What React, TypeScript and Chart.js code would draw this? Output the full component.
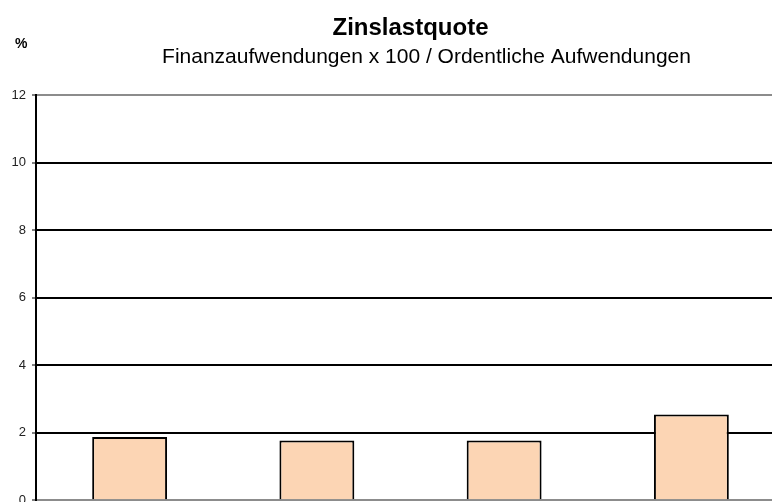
import React, { useEffect, useRef } from "react";
import { Chart, registerables } from "chart.js";

Chart.register(...registerables);

const categories = ["1", "2", "3", "4"];
const values = [1.875, 1.77, 1.77, 2.54];
const yTicks = [0, 2, 4, 6, 8, 10, 12];
const titleText = "Zinslastquote";
const subtitleText = "Finanzaufwendungen x 100 / Ordentliche Aufwendungen";
const unitText = "%";

const FONT = '"Liberation Sans", Arial, sans-serif';

const textPlugin = {
  id: "textPlugin",
  afterDraw(chart: any) {
    const { ctx, chartArea } = chart;
    const cx = (chartArea.left + chartArea.right) / 2;
    ctx.save();
    ctx.fillStyle = "#000";
    ctx.textBaseline = "alphabetic";
    ctx.textAlign = "center";
    ctx.font = `bold 24px ${FONT}`;
    ctx.fillText(titleText, cx, 35);
    ctx.font = `21px ${FONT}`;
    ctx.fillText(subtitleText, cx + 16, 63);
    ctx.textAlign = "left";
    ctx.font = `bold 14px ${FONT}`;
    ctx.fillText(unitText, 15, 48);
    ctx.restore();
  },
};

export default function App() {
  const ref = useRef<HTMLCanvasElement>(null);
  useEffect(() => {
    document.body.style.margin = "0";
    const chart = new Chart(ref.current!, {
      type: "bar",
      data: {
        labels: categories,
        datasets: [
          {
            data: values,
            backgroundColor: "#FCD5B4",
            borderColor: "#000",
            borderWidth: 2,
            categoryPercentage: 1,
            barPercentage: 0.4,
          },
        ],
      },
      options: {
        responsive: false,
        animation: false,
        layout: { padding: { top: 95, right: 5, bottom: 10, left: 0 } },
        plugins: {
          legend: { display: false },
          title: { display: false },
          tooltip: { enabled: false },
        },
        scales: {
          x: {
            type: "category",
            display: false,
            offset: true,
            grid: { display: false },
          },
          y: {
            min: 0,
            max: 12,
            afterFit(scale: any) {
              scale.width = 36;
            },
            afterBuildTicks(scale: any) {
              scale.ticks = yTicks.map((v) => ({ value: v }));
            },
            border: { display: true, color: "#000", width: 2 },
            grid: {
              color: (c: any) =>
                c.tick && (c.tick.value === 0 || c.tick.value === 12) ? "#8c8c8c" : "#000",
              lineWidth: 2,
              drawTicks: true,
              tickLength: 4,
              tickColor: "#000",
              tickWidth: 1,
            },
            ticks: {
              color: "#222",
              font: { family: FONT, size: 13 },
              padding: 6,
            },
          },
        },
      },
      plugins: [textPlugin],
    });
    return () => chart.destroy();
  }, []);
  return (
    <div
      style={{
        position: "absolute",
        left: 0,
        top: 0,
        width: 772,
        height: 502,
        overflow: "hidden",
        background: "#fff",
      }}
    >
      <canvas ref={ref} width={790} height={514} style={{ display: "block" }} />
    </div>
  );
}
